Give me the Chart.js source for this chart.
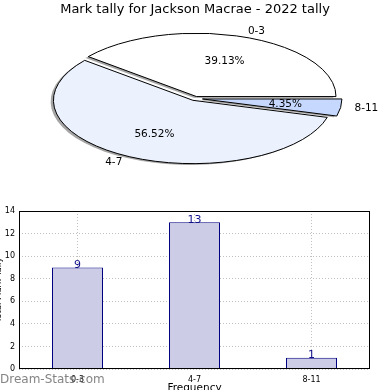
<!DOCTYPE html>
<html><head><meta charset="utf-8">
<script src="https://cdn.jsdelivr.net/npm/chart.js@4.4.1/dist/chart.umd.min.js"></script>
<style>
html,body{margin:0;padding:0;background:#fff;width:390px;height:390px;overflow:hidden;position:relative;}
#bar{position:absolute;left:-10px;top:200px;}
#pie{position:absolute;left:0;top:0;pointer-events:none;}
#wm{position:absolute;left:0;top:372px;font:12px "DejaVu Sans";color:rgba(110,110,110,0.85);white-space:nowrap;}
</style></head><body>
<canvas id="bar" width="400" height="200"></canvas>
<canvas id="pie" width="390" height="390"></canvas>
<div id="wm">Dream-Stats.com</div>
<script>
const chartTitle = 'Mark tally for Jackson Macrae - 2022 tally';
const categories = ['0-3', '4-7', '8-11'];
const tallies = [9, 13, 1];
const pieColors = ['#ffffff', '#ebf1fd', '#c6d8fe'];
const explode = [4.5, 4.5, 7.5];
const yTickValues = [0, 2, 4, 6, 8, 10, 12, 14];
const xAxisTitle = 'Frequency';
const yAxisTitle = 'Total Mark Tally';

const FONT = 'DejaVu Sans';
const PIE = {cx: 195, cy: 98.5, k: 0.454, shadowDx: -2.8, shadowDy: 1.3};
const order = [2, 1, 0]; // clockwise from 3 o'clock

const pieDraw = {
  id: 'pieDraw',
  beforeDatasetsDraw(chart) {
    const ctx = chart.ctx;
    const arcs = chart.getDatasetMeta(0).data;
    const total = tallies.reduce((a, b) => a + b, 0);
    const place = (arc, i, ox, oy) => {
      const h = (arc.startAngle + arc.endAngle) / 2;
      const d = explode[order[i]];
      ctx.translate(PIE.cx + ox, PIE.cy + oy);
      ctx.scale(1, PIE.k);
      ctx.translate(d * Math.cos(h) - arc.x, d * Math.sin(h) - arc.y);
    };
    const path = (arc) => {
      ctx.beginPath();
      ctx.moveTo(arc.x, arc.y);
      ctx.arc(arc.x, arc.y, arc.outerRadius, arc.startAngle, arc.endAngle);
      ctx.closePath();
    };
    arcs.forEach((arc, i) => {
      ctx.save(); place(arc, i, PIE.shadowDx, PIE.shadowDy); path(arc); ctx.restore();
      ctx.fillStyle = 'rgba(75,75,75,0.5)'; ctx.fill();
    });
    arcs.forEach((arc, i) => {
      ctx.save(); place(arc, i, 0, 0); arc.draw(ctx); ctx.restore();
    });
    ctx.save();
    ctx.strokeStyle = '#000'; ctx.lineWidth = 1; ctx.lineJoin = 'round';
    arcs.forEach((arc, i) => {
      ctx.save(); place(arc, i, 0, 0); path(arc); ctx.restore();
      ctx.stroke();
    });
    ctx.restore();
    ctx.save();
    ctx.fillStyle = '#000';
    ctx.font = '10.5px "' + FONT + '"';
    ctx.textBaseline = 'middle';
    arcs.forEach((arc, i) => {
      const ci = order[i];
      const h = (arc.startAngle + arc.endAngle) / 2;
      const d = explode[ci];
      const R = arc.outerRadius;
      const c = Math.cos(h), s = Math.sin(h);
      const ex = PIE.cx + d * c, ey = PIE.cy + PIE.k * d * s;
      ctx.textAlign = c > 0 ? 'left' : 'right';
      ctx.fillText(categories[ci], ex + 1.1 * R * c, ey + 1.1 * R * PIE.k * s);
      ctx.textAlign = 'center';
      ctx.fillText((tallies[ci] / total * 100).toFixed(2) + '%', ex + 0.6 * R * c, ey + 0.6 * R * PIE.k * s);
    });
    ctx.restore();
    return false;
  }
};

new Chart(document.getElementById('pie'), {
  type: 'pie',
  data: {
    labels: order.map(i => categories[i]),
    datasets: [{
      data: order.map(i => tallies[i]),
      backgroundColor: order.map(i => pieColors[i]),
      borderWidth: 0,
      radius: 139.5,
      clip: false
    }]
  },
  options: {
    responsive: false, animation: false, rotation: 90, events: [],
    plugins: {
      legend: {display: false}, tooltip: {enabled: false},
      title: {display: true, text: chartTitle, color: '#000',
        font: {family: FONT, size: 13, weight: 'normal'}, padding: {top: 2, bottom: 0}}
    }
  },
  plugins: [pieDraw]
});

const barExtras = {
  id: 'barExtras',
  afterDatasetsDraw(chart) {
    const ctx = chart.ctx;
    const a = chart.chartArea;
    ctx.save();
    ctx.fillStyle = '#10108a';
    ctx.font = '11px "' + FONT + '"';
    ctx.textAlign = 'center';
    ctx.textBaseline = 'bottom';
    chart.getDatasetMeta(0).data.forEach((bar, i) => {
      ctx.fillText(String(tallies[i]), bar.x, bar.y + 3);
    });
    ctx.strokeStyle = '#000';
    ctx.lineWidth = 1;
    ctx.strokeRect(Math.round(a.left) + 0.5, Math.round(a.top) + 0.5, Math.round(a.width) - 1, Math.round(a.height) - 1);
    ctx.restore();
  }
};

new Chart(document.getElementById('bar'), {
  type: 'bar',
  data: {
    labels: categories,
    datasets: [{
      data: tallies,
      backgroundColor: '#cccce6',
      borderColor: '#000080',
      borderWidth: 1,
      categoryPercentage: 1,
      barPercentage: 0.436
    }]
  },
  options: {
    responsive: false, animation: false, events: [],
    layout: {padding: {top: 11, right: 20, left: 0, bottom: 0}},
    plugins: {legend: {display: false}, tooltip: {enabled: false}},
    scales: {
      x: {
        grid: {offset: false, color: '#c0c0c0', drawTicks: false},
        border: {display: false, dash: [1, 2]},
        ticks: {color: '#000', font: {family: FONT, size: 8}, padding: 6},
        title: {display: true, text: xAxisTitle, color: '#000', font: {family: FONT, size: 10.5}, padding: {top: 0, bottom: 5}},
        afterFit(s) { s.height = 31; }
      },
      y: {
        min: yTickValues[0], max: yTickValues[yTickValues.length - 1],
        afterBuildTicks(s) { s.ticks = yTickValues.map(v => ({value: v})); },
        grid: {color: '#c0c0c0', drawTicks: false},
        border: {display: false, dash: [1, 2]},
        ticks: {color: '#000', font: {family: FONT, size: 8}, padding: 4},
        title: {display: true, text: yAxisTitle, color: '#000', font: {family: FONT, size: 8.5}, padding: {top: 3.5, bottom: 0}},
        afterFit(s) { s.width = 29; }
      }
    }
  },
  plugins: [barExtras]
});
</script>
</body></html>
